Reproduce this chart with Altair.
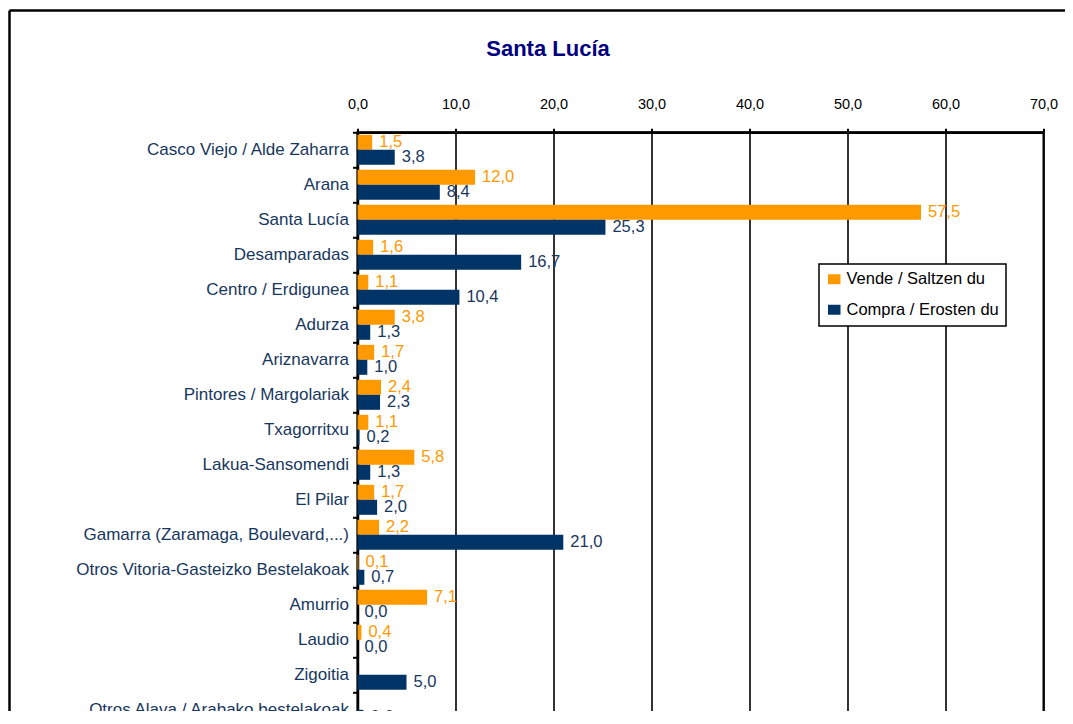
import altair as alt
import pandas as pd

FONT = "Liberation Sans"

title_text = "Santa Lucía"
categories = [
    "Casco Viejo / Alde Zaharra",
    "Arana",
    "Santa Lucía",
    "Desamparadas",
    "Centro / Erdigunea",
    "Adurza",
    "Ariznavarra",
    "Pintores / Margolariak",
    "Txagorritxu",
    "Lakua-Sansomendi",
    "El Pilar",
    "Gamarra (Zaramaga, Boulevard,...)",
    "Otros Vitoria-Gasteizko Bestelakoak",
    "Amurrio",
    "Laudio",
    "Zigoitia",
    "Otros Alava / Arabako bestelakoak",
]
vende = [1.5, 12.0, 57.5, 1.6, 1.1, 3.8, 1.7, 2.4, 1.1, 5.8, 1.7, 2.2, 0.1, 7.1, 0.4, None, None]
compra = [3.8, 8.4, 25.3, 16.7, 10.4, 1.3, 1.0, 2.3, 0.2, 1.3, 2.0, 21.0, 0.7, 0.0, 0.0, 5.0, 0.6]
series = ["Vende / Saltzen du", "Compra / Erosten du"]
series_colors = ["#FF9900", "#003366"]
label_colors = ["#FF9900", "#17375E"]
x_ticks = [0, 10, 20, 30, 40, 50, 60, 70]

rows = []
for c, v, b in zip(categories, vende, compra):
    rows.append({"cat": c, "serie": series[0], "value": v})
    rows.append({"cat": c, "serie": series[1], "value": b})
df = pd.DataFrame(rows)

fmt = "replace(format(datum.value, '.1f'), '.', ',')"

x_enc = alt.X(
    "value:Q",
    scale=alt.Scale(domain=[0, 70], nice=False),
    axis=alt.Axis(
        title=None, orient="top", values=x_ticks, labelExpr=fmt,
        labelFont=FONT, labelFontSize=14.5, labelColor="black",
        labelPadding=17, tickSize=4, tickColor="black", tickWidth=2,
        domainColor="black", domainWidth=2.5,
        grid=True, gridColor="black", gridWidth=1.6,
        labelFlush=False, labelOverlap=False,
    ),
)
y_enc = alt.Y(
    "cat:N", sort=categories,
    scale=alt.Scale(domain=categories, paddingInner=0, paddingOuter=0),
    axis=alt.Axis(
        title=None, orient="left", labelFont=FONT, labelFontSize=17,
        labelColor="#17375E", labelPadding=4, tickSize=5, tickColor="black",
        tickWidth=2, domainColor="black", domainWidth=2.5, bandPosition=0,
        grid=False, labelLimit=400,
    ),
)
yoff_enc = alt.YOffset(
    "serie:N", sort=series,
    scale=alt.Scale(domain=series, paddingInner=0, paddingOuter=0.1667),
)

base = alt.Chart(df).transform_filter("isValid(datum.value)")

bars = base.mark_bar().encode(
    x=x_enc, y=y_enc, yOffset=yoff_enc,
    color=alt.Color(
        "serie:N", sort=series,
        scale=alt.Scale(domain=series, range=series_colors),
        legend=alt.Legend(
            title=None, orient="none", legendX=461.5, legendY=131.7,
            direction="vertical", fillColor="white", strokeColor="black",
            padding=7, rowPadding=13.5, labelFont=FONT, labelFontSize=16.5,
            labelColor="black", symbolType="M-1,-0.8H1V0.8H-1Z",
            symbolSize=156, symbolStrokeWidth=0, labelOffset=4, offset=0,
        ),
    ),
)

def label_layer(i):
    return (
        base.transform_filter(alt.datum.serie == series[i])
        .transform_calculate(lab=fmt)
        .mark_text(align="left", baseline="middle", dx=7, dy=-0.5,
                   font=FONT, fontSize=16.5, color=label_colors[i])
        .encode(x=x_enc, y=y_enc, yOffset=yoff_enc, text="lab:N")
    )

title_mark = alt.Chart(pd.DataFrame({"t": [title_text]})).mark_text(
    font=FONT, fontSize=22, fontWeight="bold", color="#000080",
    align="center", baseline="alphabetic",
).encode(x=alt.value(190.5), y=alt.value(-76.5), text="t:N")

frame_df = pd.DataFrame({"k": [0]})
frame_left = alt.Chart(frame_df).mark_rule(color="black", strokeWidth=2.5).encode(
    x=alt.value(-348), y=alt.value(-121.8), y2=alt.value(620)
)
frame_top = alt.Chart(frame_df).mark_rule(color="black", strokeWidth=2.5).encode(
    x=alt.value(-348), x2=alt.value(720), y=alt.value(-121.8)
)

chart = (
    alt.layer(bars, label_layer(0), label_layer(1), title_mark, frame_left, frame_top)
    .properties(
        width=686, height=595,
        autosize=alt.AutoSizeParams(type="none"),
        padding={"left": 349.5, "top": 124.3, "right": 21.5, "bottom": -16.3},
    )
    .configure_view(stroke="black", strokeWidth=2)
    .configure_legend(strokeWidth=1.5)
)

chart.save("out.html", embed_options={"renderer": "svg", "actions": False})
